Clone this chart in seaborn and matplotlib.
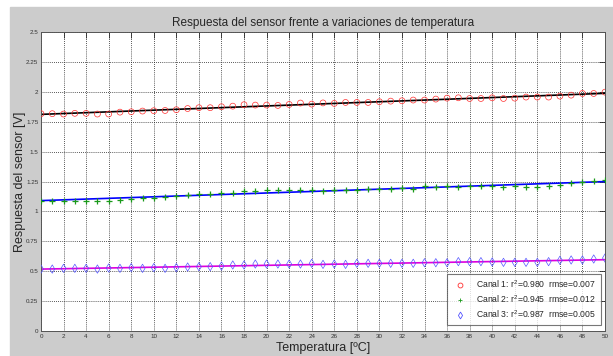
import numpy as np
import pandas as pd
import matplotlib
matplotlib.use("Agg")
import matplotlib.pyplot as plt
from matplotlib.patches import Rectangle
from matplotlib.lines import Line2D
import seaborn as sns

# ---------------------------------------------------------
# DATA
# ---------------------------------------------------------
temperatura = list(range(0, 51))

canal1 = [1.817, 1.817, 1.814, 1.820, 1.820, 1.814, 1.814, 1.830, 1.833, 1.839,
          1.842, 1.844, 1.850, 1.860, 1.867, 1.867, 1.875, 1.880, 1.892, 1.889,
          1.889, 1.886, 1.894, 1.906, 1.897, 1.907, 1.903, 1.911, 1.911, 1.911,
          1.917, 1.922, 1.925, 1.931, 1.931, 1.939, 1.947, 1.950, 1.944, 1.944,
          1.950, 1.944, 1.947, 1.956, 1.956, 1.956, 1.964, 1.972, 1.986, 1.986,
          1.997]

canal2 = [1.090, 1.090, 1.084, 1.090, 1.087, 1.087, 1.084, 1.098, 1.106, 1.115,
          1.112, 1.118, 1.126, 1.134, 1.143, 1.148, 1.157, 1.151, 1.168, 1.168,
          1.182, 1.182, 1.182, 1.182, 1.182, 1.174, 1.182, 1.182, 1.182, 1.190,
          1.190, 1.190, 1.196, 1.187, 1.212, 1.207, 1.212, 1.207, 1.210, 1.210,
          1.210, 1.201, 1.210, 1.207, 1.207, 1.212, 1.218, 1.237, 1.246, 1.254,
          1.263]

canal3 = [0.518, 0.518, 0.524, 0.524, 0.524, 0.518, 0.527, 0.524, 0.530, 0.524,
          0.530, 0.524, 0.530, 0.535, 0.538, 0.538, 0.543, 0.552, 0.552, 0.560,
          0.560, 0.560, 0.560, 0.560, 0.566, 0.557, 0.560, 0.557, 0.566, 0.566,
          0.566, 0.566, 0.566, 0.566, 0.571, 0.571, 0.571, 0.580, 0.580, 0.580,
          0.577, 0.574, 0.574, 0.574, 0.574, 0.580, 0.591, 0.594, 0.594, 0.602,
          0.610]

etiquetas = ["Canal 1: r$^2$=0.980  rmse=0.007",
             "Canal 2: r$^2$=0.945  rmse=0.012",
             "Canal 3: r$^2$=0.987  rmse=0.005"]

x_ticks = list(range(0, 51, 2))
y_ticks = [0, 0.25, 0.5, 0.75, 1, 1.25, 1.5, 1.75, 2, 2.25, 2.5]
y_tick_labels = ["0", "0.25", "0.5", "0.75", "1", "1.25", "1.5", "1.75", "2", "2.25", "2.5"]

# ---------------------------------------------------------
# PLOT
# ---------------------------------------------------------
sns.set_theme(style="white")
plt.rcParams['font.family'] = ['Liberation Sans', 'DejaVu Sans']
plt.rcParams['mathtext.fontset'] = 'custom'
plt.rcParams['mathtext.rm'] = 'Liberation Sans'

fig = plt.figure(figsize=(6.13, 3.56), dpi=100, facecolor="white")
fig.patches.append(Rectangle((10 / 613, 0), 1 - 10 / 613, 349 / 356,
                             transform=fig.transFigure, color="#cccccc", zorder=-10))
ax = fig.add_axes([41 / 613, 1 - 331 / 356, (605 - 41) / 613, (331 - 32) / 356])
ax.set_facecolor("white")

df = pd.DataFrame({"T": temperatura, "c1": canal1, "c2": canal2, "c3": canal3})

series = [("c1", "#ff3030", "o", "black"),
          ("c2", "#1a9a1a", "+", "blue"),
          ("c3", "#5555ff", "d", "#dd00dd")]

handles = []
for (col, mcol, mk, lcol), lab in zip(series, etiquetas):
    # least squares fit line
    p = np.polyfit(df["T"], df[col], 1)
    df["fit_" + col] = np.polyval(p, df["T"])
    sns.lineplot(data=df, x="T", y="fit_" + col, ax=ax, color=lcol, lw=1.2, zorder=2)
    if mk == "+":
        sns.scatterplot(data=df, x="T", y=col, ax=ax, marker=mk, color=mcol,
                        s=20, linewidth=0.9, zorder=3)
    else:
        sns.scatterplot(data=df, x="T", y=col, ax=ax, marker=mk, facecolor="none",
                        edgecolor=mcol, s=18, linewidth=0.5, zorder=3)
    handles.append(Line2D([], [], ls="none", marker=mk, markersize=3.5,
                          markerfacecolor="none",
                          markeredgecolor=mcol, markeredgewidth=0.6, label=lab))

ax.set_xlim(0, 50)
ax.set_ylim(0, 2.5)
ax.set_xticks(x_ticks)
ax.set_xticklabels([str(t) for t in x_ticks])
ax.set_yticks(y_ticks)
ax.set_yticklabels(y_tick_labels)
ax.tick_params(direction="in", top=True, right=True, length=4, width=0.6,
               labelsize=4.5, labelcolor="#333333", pad=2)
ax.grid(True, color="#222222", linestyle=(0, (1, 1.5)), linewidth=0.6)
for s in ax.spines.values():
    s.set_color("#555555")
    s.set_linewidth(0.7)

ax.set_title("Respuesta del sensor frente a variaciones de temperatura",
             fontsize=8.5, pad=4)
ax.set_xlabel("Temperatura [ºC]", fontsize=9, labelpad=2)
ax.set_ylabel("Respuesta del sensor [V]", fontsize=9, labelpad=0)

leg = ax.legend(handles=handles, loc="lower right", fontsize=6.2, frameon=True,
                fancybox=False, edgecolor="#555555", borderpad=0.6,
                handletextpad=0.8, labelspacing=0.35, borderaxespad=0,
                bbox_to_anchor=(0.993, 0.02))
leg.get_frame().set_linewidth(0.8)

plt.savefig("out.png", dpi=100, facecolor=fig.get_facecolor())
